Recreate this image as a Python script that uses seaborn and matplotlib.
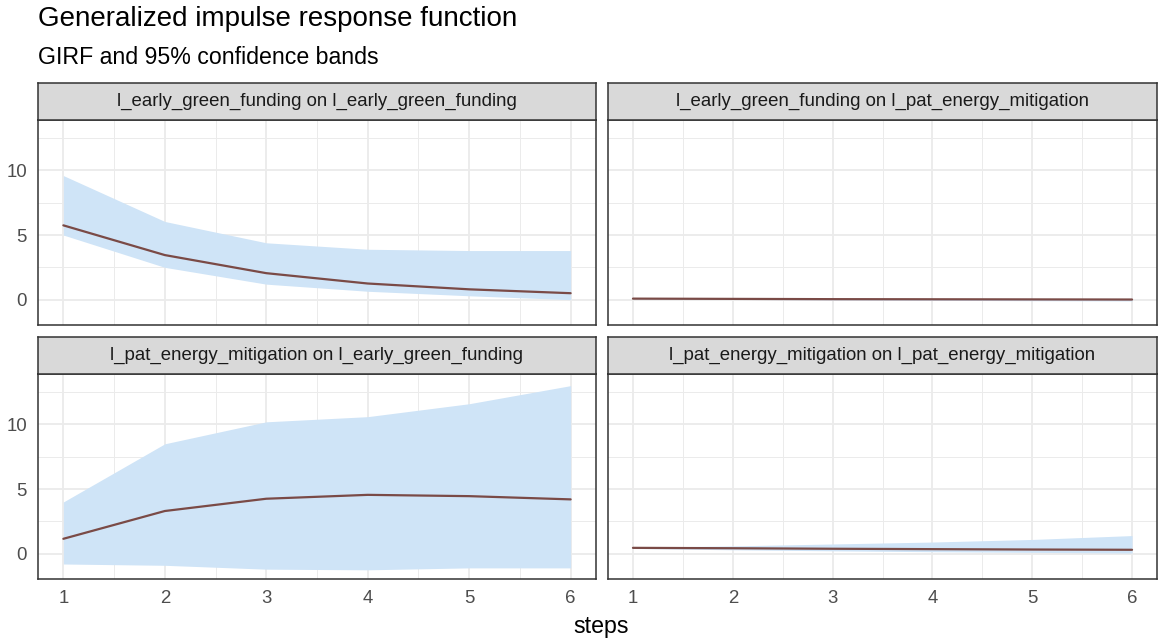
import numpy as np
import pandas as pd
import matplotlib
matplotlib.use('Agg')
import matplotlib.pyplot as plt
import seaborn as sns

steps = [1, 2, 3, 4, 5, 6]
panel_names = [
    'l_early_green_funding on l_early_green_funding',
    'l_early_green_funding on l_pat_energy_mitigation',
    'l_pat_energy_mitigation on l_early_green_funding',
    'l_pat_energy_mitigation on l_pat_energy_mitigation',
]
girf = [
    [5.75, 3.45, 2.05, 1.25, 0.80, 0.50],
    [0.08, 0.06, 0.04, 0.03, 0.02, 0.01],
    [1.15, 3.30, 4.25, 4.55, 4.45, 4.20],
    [0.45, 0.42, 0.38, 0.35, 0.32, 0.30],
]
upper = [
    [9.60, 6.05, 4.40, 3.90, 3.80, 3.80],
    [0.12, 0.11, 0.10, 0.10, 0.10, 0.10],
    [4.00, 8.50, 10.20, 10.60, 11.60, 13.00],
    [0.50, 0.60, 0.75, 0.90, 1.10, 1.40],
]
lower = [
    [5.00, 2.50, 1.20, 0.65, 0.30, 0.00],
    [0.05, 0.02, -0.02, -0.05, -0.08, -0.10],
    [-0.80, -0.90, -1.20, -1.25, -1.10, -1.10],
    [0.40, 0.30, 0.22, 0.15, 0.10, 0.05],
]

rows = []
for name, g, u, l in zip(panel_names, girf, upper, lower):
    for s, gv, uv, lv in zip(steps, g, u, l):
        rows.append({'panel': name, 'steps': s, 'girf': gv, 'upper': uv, 'lower': lv})
df = pd.DataFrame(rows)

sns.set_style('white')
plt.rcParams['font.family'] = ['Liberation Sans', 'DejaVu Sans']

W, H = 1159, 641
fig = plt.figure(figsize=(W / 100, H / 100), dpi=100)

def frac(x0, y0, x1, y1):
    return [x0 / W, 1 - y1 / H, (x1 - x0) / W, (y1 - y0) / H]

cols_px = [(38, 596), (608, 1157)]
rows_px = [(83, 120, 325), (337, 374, 579)]

line_col = '#7a4a46'
band_col = '#cfe4f7'
grid_col = '#ebebeb'
edge_col = '#333333'

for i, name in enumerate(panel_names):
    r, c = divmod(i, 2)
    x0, x1 = cols_px[c]
    s0, p0, p1 = rows_px[r]
    ax = fig.add_axes(frac(x0, p0, x1, p1))
    sub = df[df['panel'] == name]
    ax.fill_between(sub['steps'], sub['lower'], sub['upper'], color=band_col, lw=0, zorder=2)
    sns.lineplot(data=sub, x='steps', y='girf', color=line_col, lw=1.6, ax=ax, zorder=3)
    ax.set_xlim(0.75, 6.25)
    ax.set_ylim(-1.96, 13.9)
    ax.set_xticks(steps)
    ax.set_xticks([1.5, 2.5, 3.5, 4.5, 5.5], minor=True)
    ax.set_yticks([0, 5, 10])
    ax.set_yticks([2.5, 7.5, 12.5], minor=True)
    ax.grid(which='major', color=grid_col, lw=1.3, zorder=0)
    ax.grid(which='minor', color=grid_col, lw=0.7, zorder=0)
    ax.set_axisbelow(True)
    for sp in ax.spines.values():
        sp.set_color(edge_col)
        sp.set_linewidth(1.1)
    ax.tick_params(axis='both', which='major', length=5, width=1, color=edge_col,
                   labelsize=13.4, labelcolor='#4d4d4d', pad=3)
    ax.tick_params(which='minor', length=0)
    ax.set_xlabel('')
    ax.set_ylabel('')
    if r == 0:
        ax.tick_params(axis='x', labelbottom=False)
    if c == 1:
        ax.tick_params(axis='y', labelleft=False)

    sax = fig.add_axes(frac(x0, s0, x1, p0))
    sax.set_facecolor('#d9d9d9')
    sax.set_xticks([])
    sax.set_yticks([])
    for sp in sax.spines.values():
        sp.set_color(edge_col)
        sp.set_linewidth(1.1)
    sax.text(0.5, 0.5, name, ha='center', va='center', fontsize=13.4,
             color='#1a1a1a', transform=sax.transAxes)

fig.text(38 / W, 1 - 19 / H, 'Generalized impulse response function', fontsize=20,
         ha='left', va='center', color='black')
fig.text(38 / W, 1 - 57 / H, 'GIRF and 95% confidence bands', fontsize=16.7,
         ha='left', va='center', color='black')
fig.text(601 / W, 1 - 627 / H, 'steps', fontsize=16.7, ha='center', va='center', color='black')

fig.savefig('out.png', dpi=100)
